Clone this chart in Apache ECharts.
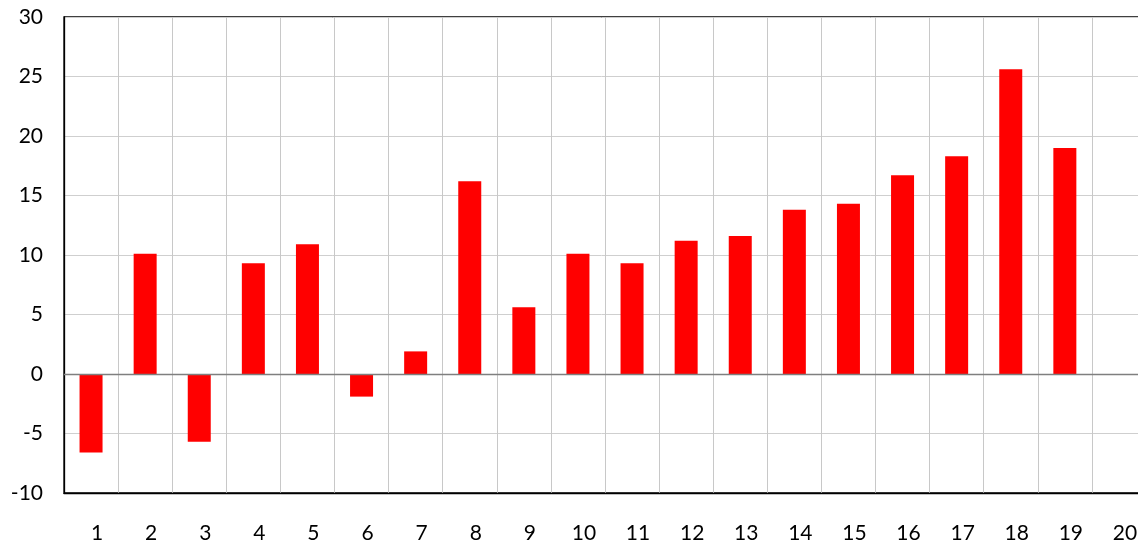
<!DOCTYPE html>
<html>
<head>
<meta charset="utf-8">
<script src="https://cdn.jsdelivr.net/npm/echarts@6/dist/echarts.min.js"></script>
<style>
  html, body { margin: 0; padding: 0; background: #fff; }
  #chart { width: 1138px; height: 543px; }
</style>
</head>
<body>
<div id="chart"></div>
<script>
// categories along the x axis
const categories = ['1', '2', '3', '4', '5', '6', '7', '8', '9', '10',
                    '11', '12', '13', '14', '15', '16', '17', '18', '19', '20'];
// bar values (20 has no bar)
const values = [-6.6, 10.1, -5.7, 9.3, 10.9, -1.9, 1.9, 16.2, 5.6, 10.1,
                9.3, 11.2, 11.6, 13.8, 14.3, 16.7, 18.3, 25.6, 19.0, null];
// y axis range
const yMin = -10;
const yMax = 30;
const yStep = 5;

const chart = echarts.init(document.getElementById('chart'));
chart.setOption({
  animation: false,
  grid: {
    left: 64, top: 17, width: 1082, height: 476,
    outerBoundsMode: 'none',
    containLabel: false,
    show: true, borderColor: '#000', borderWidth: 1.3
  },
  xAxis: {
    type: 'category',
    data: categories,
    boundaryGap: true,
    axisLine: { onZero: false, lineStyle: { color: '#000', width: 1.3 } },
    axisTick: { show: false },
    axisLabel: {
      interval: 0,
      color: '#000',
      fontFamily: 'Lato',
      fontSize: 21,
      padding: [0, 0, 0, 12],
      margin: 30
    },
    splitLine: { show: true, interval: 0, lineStyle: { color: '#c8c8c8', width: 1 } }
  },
  yAxis: {
    type: 'value',
    min: yMin, max: yMax, interval: yStep,
    axisLine: { show: true, lineStyle: { color: '#000', width: 1.3 } },
    axisTick: { show: false },
    axisLabel: { color: '#000', fontFamily: 'Lato', fontSize: 21, margin: 21 },
    splitLine: { lineStyle: { color: '#cfcfcf', width: 1 } }
  },
  series: [{
    type: 'bar',
    data: values,
    barWidth: 23,
    itemStyle: { color: '#ff0000' },
    // gray zero line drawn over the bars
    markLine: {
      silent: true,
      symbol: 'none',
      label: { show: false },
      lineStyle: { color: '#7f7f7f', type: 'solid', width: 1.3 },
      data: [{ yAxis: 0 }]
    }
  }]
});
</script>
</body>
</html>
